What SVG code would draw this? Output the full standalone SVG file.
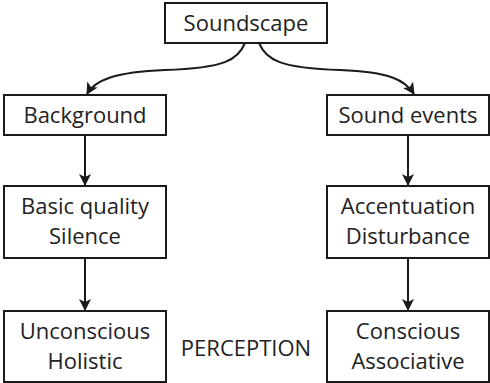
<svg xmlns="http://www.w3.org/2000/svg" width="490" height="383" viewBox="0 0 490 383">
<style>
.box{fill:#fff;stroke:#1a1a1a;stroke-width:2}
.t{font-family:"Open Sans",sans-serif;font-size:22px;fill:#222;text-anchor:middle}
.c{fill:none;stroke:#1a1a1a;stroke-width:2}
</style>
<defs>
<marker id="ah" viewBox="0 0 12 12" refX="11" refY="6" markerWidth="12" markerHeight="12" markerUnits="userSpaceOnUse" orient="auto">
<path d="M0,0 L12,6 L0,12 L3,6 Z" fill="#1a1a1a"/>
</marker>
</defs>
<rect width="490" height="383" fill="#fff"/>
<g id="connectors">
<path class="c" d="M245,43 C238,60 225,68 165,70 C115,72 95,80 87,94" marker-end="url(#ah)"/>
<path class="c" d="M259,43 C266,60 280,68 340,70 C390,72 405,80 414,94" marker-end="url(#ah)"/>
<path class="c" d="M85,135 L85,185" marker-end="url(#ah)"/>
<path class="c" d="M408,135 L408,185" marker-end="url(#ah)"/>
<path class="c" d="M85,258 L85,310" marker-end="url(#ah)"/>
<path class="c" d="M408,258 L408,310" marker-end="url(#ah)"/>
</g>
<g id="soundscape"><rect class="box" x="165" y="3" width="162" height="40"/><text class="t" x="246" y="31">Soundscape</text></g>
<g id="background"><rect class="box" x="4" y="95" width="162" height="40"/><text class="t" x="85" y="123">Background</text></g>
<g id="sound-events"><rect class="box" x="327" y="95" width="162" height="40"/><text class="t" x="408" y="123">Sound events</text></g>
<g id="basic-quality"><rect class="box" x="4" y="186" width="162" height="72"/><text class="t" x="85" y="214">Basic quality</text><text class="t" x="85" y="244">Silence</text></g>
<g id="accentuation"><rect class="box" x="327" y="186" width="162" height="72"/><text class="t" x="408" y="214">Accentuation</text><text class="t" x="408" y="244">Disturbance</text></g>
<g id="unconscious"><rect class="box" x="4" y="311" width="162" height="71"/><text class="t" x="85" y="339">Unconscious</text><text class="t" x="85" y="369">Holistic</text></g>
<g id="conscious"><rect class="box" x="327" y="311" width="162" height="71"/><text class="t" x="408" y="339">Conscious</text><text class="t" x="408" y="369">Associative</text></g>
<g id="perception"><text class="t" x="246" y="356">PERCEPTION</text></g>
</svg>
